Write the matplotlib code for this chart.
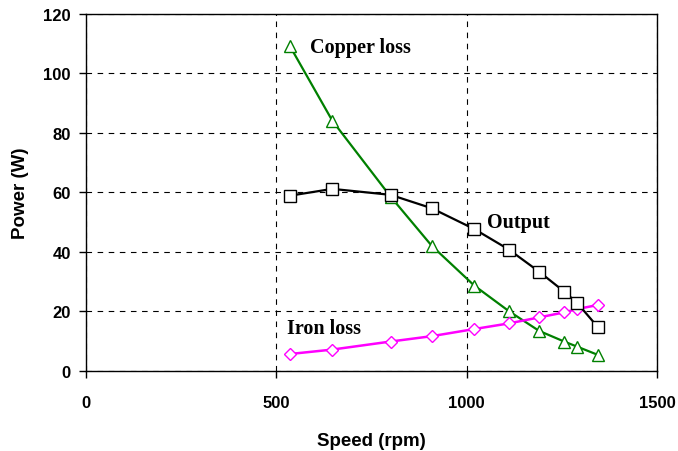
import matplotlib.pyplot as plt

# speed (rpm) at each measured point
speed = [535, 647, 800, 908, 1020, 1111, 1190, 1256, 1290, 1345]

copper_loss = [109.3, 84.1, 58.6, 42.1, 28.7, 20.1, 13.5, 9.9, 8.2, 5.4]
output_power = [58.9, 61.2, 59.2, 54.7, 47.7, 40.8, 33.4, 26.7, 22.9, 14.7]
iron_loss = [5.7, 7.2, 9.9, 11.7, 14.1, 16.0, 18.0, 19.7, 20.8, 22.2]

x_ticks = [0, 500, 1000, 1500]
y_ticks = [0, 20, 40, 60, 80, 100, 120]

fig = plt.figure(figsize=(6.78, 4.52), dpi=100)
ax = fig.add_axes([0.127, 0.177, 0.842, 0.790])

ax.plot(speed, copper_loss, color='#008000', lw=1.6, marker='^', ms=9,
        mfc='white', mec='#008000', mew=1.0, zorder=3)
ax.plot(speed, output_power, color='black', lw=1.6, marker='s', ms=8,
        mfc='white', mec='black', mew=1.0, zorder=4)
ax.plot(speed, iron_loss, color='#FF00FF', lw=1.8, marker='D', ms=6.5,
        mfc='white', mec='#FF00FF', mew=1.0, zorder=3)

lbl = dict(family='Liberation Serif', fontweight='bold', fontsize=14.5, va='center')
ax.text(588, 109, 'Copper loss', **lbl)
ax.text(1053, 50, 'Output', **lbl)
ax.text(528, 14.5, 'Iron loss', **lbl)

ax.set_xlim(0, 1500)
ax.set_ylim(0, 120)
ax.set_xticks(x_ticks)
ax.set_yticks(y_ticks)
ax.grid(True, color='black', ls=(0, (5, 5)), lw=0.8)
ax.set_axisbelow(True)

for lab in ax.get_xticklabels() + ax.get_yticklabels():
    lab.set_family('Liberation Sans')
    lab.set_fontweight('bold')
    lab.set_fontsize(12)
ax.tick_params(direction='out', length=5, width=1, color='black')
ax.tick_params(axis='x', pad=12)
ax.tick_params(axis='y', pad=6)

for s in ax.spines.values():
    s.set_color('black')
    s.set_linewidth(1.0)

ax.set_xlabel('Speed (rpm)', family='Liberation Sans', fontweight='bold', fontsize=13.5, labelpad=16)
ax.set_ylabel('Power (W)', family='Liberation Sans', fontweight='bold', fontsize=13.5, labelpad=10)

fig.savefig('out.png', dpi=100)
